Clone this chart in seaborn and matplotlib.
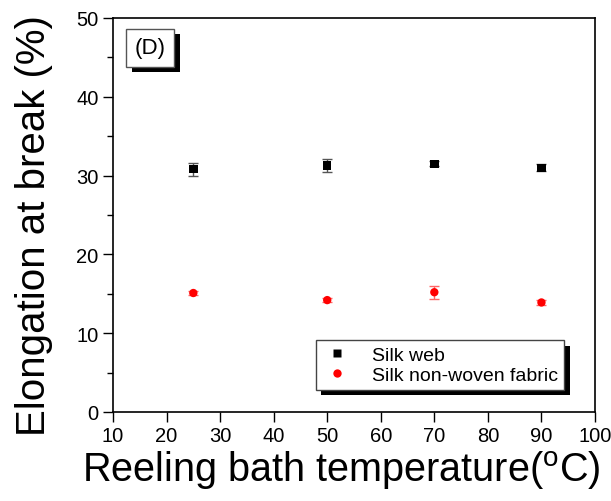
import matplotlib
matplotlib.use("Agg")
import matplotlib.pyplot as plt
import matplotlib.patheffects as pe
from matplotlib.ticker import MultipleLocator
import seaborn as sns
import pandas as pd

# Reeling bath temperature (°C)
temperature = [25, 50, 70, 90]
# Elongation at break (%) with standard deviations
web_elong = [30.8, 31.3, 31.5, 31.0]
web_err = [0.8, 0.85, 0.3, 0.45]
fabric_elong = [15.1, 14.2, 15.2, 13.9]
fabric_err = [0.3, 0.3, 0.85, 0.35]
series_names = ["Silk web", "Silk non-woven fabric"]

df = pd.DataFrame({
    "temp": temperature * 2,
    "elong": web_elong + fabric_elong,
    "err": web_err + fabric_err,
    "series": [series_names[0]] * 4 + [series_names[1]] * 4,
})

sns.set_style("ticks")
plt.rcParams["font.family"] = ["Liberation Sans", "DejaVu Sans"]
plt.rcParams["text.color"] = "black"
plt.rcParams["axes.labelcolor"] = "black"
plt.rcParams["xtick.color"] = "black"
plt.rcParams["ytick.color"] = "black"

fig = plt.figure(figsize=(6.11, 5.02), dpi=100)
ax = fig.add_axes([113 / 611, 89 / 502, 482 / 611, 394 / 502])

colors = {series_names[0]: "black", series_names[1]: "red"}
err_colors = {series_names[0]: "#555555", series_names[1]: "#ff6666"}

for name in series_names:
    sub = df[df["series"] == name]
    ax.errorbar(sub["temp"], sub["elong"], yerr=sub["err"], fmt="none",
                ecolor=err_colors[name], elinewidth=1.0, capsize=3.3, capthick=1.0,
                zorder=2)

sns.scatterplot(data=df, x="temp", y="elong", hue="series", style="series",
                palette=colors, markers={series_names[0]: "s", series_names[1]: "o"},
                s=36, edgecolor="none", ax=ax, zorder=3)

ax.set_xlim(10, 100)
ax.set_ylim(0, 50)
ax.xaxis.set_major_locator(MultipleLocator(10))
ax.yaxis.set_major_locator(MultipleLocator(10))
ax.yaxis.set_minor_locator(MultipleLocator(5))
ax.tick_params(axis="both", which="major", direction="out", length=7, width=1,
               labelsize=14.5, top=False, right=False, colors="black")
ax.tick_params(axis="x", which="major", pad=3)
ax.tick_params(axis="y", which="minor", direction="out", length=4, width=1,
               colors="black")
for sp in ax.spines.values():
    sp.set_linewidth(1.2)
    sp.set_color("black")

ax.set_xlabel("Reeling bath temperature($\\mathregular{^oC}$)", fontsize=28.5)
ax.xaxis.set_label_coords(0.473, -0.092)
ax.set_ylabel("Elongation at break (%)", fontsize=29)
ax.yaxis.set_label_coords(-0.125, 0.475)

leg = ax.legend(loc="lower right", bbox_to_anchor=(0.936, 0.056), frameon=True,
                fancybox=False, edgecolor="#444444", framealpha=1.0,
                facecolor="white", fontsize=14, handletextpad=1.0,
                borderpad=0.3, labelspacing=0.15, handlelength=1.6,
                borderaxespad=0, title=None, markerscale=1.0)
leg.get_frame().set_linewidth(1.0)
leg.get_frame().set_path_effects([
    pe.SimplePatchShadow(offset=(4, -4), shadow_rgbFace="black", alpha=1.0),
    pe.Normal(),
])

txt = ax.text(0.045, 0.951, "(D)", transform=ax.transAxes, fontsize=16,
              va="top", ha="left",
              bbox=dict(boxstyle="square,pad=0.38", facecolor="white",
                        edgecolor="#555555", linewidth=1.0))
txt.get_bbox_patch().set_path_effects([
    pe.SimplePatchShadow(offset=(4, -4), shadow_rgbFace="black", alpha=1.0),
    pe.Normal(),
])

fig.savefig("out.png", dpi=100)
